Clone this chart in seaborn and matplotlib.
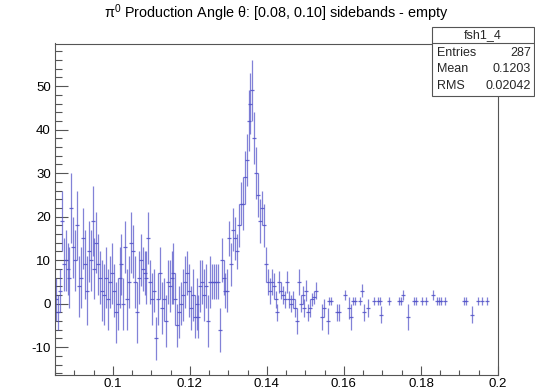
import numpy as np
import pandas as pd
import matplotlib
matplotlib.use("Agg")
import matplotlib.pyplot as plt
import seaborn as sns
from matplotlib.ticker import MultipleLocator, FixedLocator
from matplotlib.patches import Rectangle
from matplotlib.lines import Line2D

# Histogram binning
bin_low = 0.085
bin_width = 0.0005

# Contiguous bins starting at bin_low
dense_values = [
    1, -2, 3, 19, 9, 10, 8, 6, 22, 13, 10, 18, 4, 6, 15, 9, 3, 12, 10, 19, 8, 14, 9, 6, 3, 2, 6,
    1, 5, 7, 3, -2, 0, 6, 9, 0, 13, 1, 5, 14, 12, 5, -2, 6, 10, 8, 7, 6, 15, 5, 1, 3, -8, 1,
    7,
    -1, 1, -4, 5, 4, 6, 7, 1, -5, -2, 0, 2, 5, 7, 3, -1, 2, -3, 0, -3, 4, 5, 2, 4, -4, 5, 5, 5, 5, 5,
    -6, 10, 6, 3, 3, 15, 9, 17, 15, 12, 18, 23, 23, 29, 33, 42, 46, 49, 38, 30, 25, 19, 22, 18, 9, 5, 3,
    5, 4, 1, -2, 5, 3, 2, 1, 5, 1, 0, 1, -1, -4, 5, 0, 2, -1, 3, -2, -1, 1, 1.5, 3,
]
dense_errors = [
    5, 4, 5, 7, 6, 7, 6, 7, 8, 7, 7, 8, 7, 7, 7, 8, 8, 7, 7, 8, 7, 7, 7, 6, 7, 7, 7,
    7, 6, 7, 6, 7, 6, 7, 7, 6, 6, 7, 6, 7, 6, 6, 7, 6, 6, 5, 5, 6, 6, 5, 6, 5, 5, 6,
    6,
    6, 5, 6, 5, 6, 6, 7, 6, 5, 6, 5, 6, 6, 5, 6, 5, 6, 5, 6, 5, 6, 5, 6, 5, 6, 6, 4, 4, 4, 4,
    5, 5, 4, 4, 5, 4, 5, 5, 5, 4, 5, 5, 6, 6, 6, 7, 7, 7, 6, 6, 5, 5, 4, 5, 4, 3, 3,
    3, 3, 2, 2, 2.5, 2, 2, 2, 2.5, 2, 2, 2, 2, 3, 3, 2, 2, 2, 2.5, 2, 2, 1.5, 1.5, 2,
]

# Isolated filled bins in the tail (bin index, content, error)
sparse_bins = [138, 139, 141, 142, 143, 146, 147, 150, 152, 153, 154, 155, 158, 159, 160,
               162, 165, 167, 168, 169, 173, 178, 179, 180, 183, 186, 187, 190, 192, 196,
               198, 199, 200, 202, 212, 213, 216, 219, 221, 224]
sparse_values = [-3, -1, -4, 0.6, 0.6, -2, -2, 2, -1, -3, 0.6, 0.6, 0.6, 3, -2,
                 -1, 0.6, 0.6, 0.6, -2.5, 0.6, 0.6, 0.6, 2, -3, 0.6, 0.6, 0.6, 0.6, 2,
                 0.6, 0.6, 0.6, 0.6, 0.6, 0.6, -2.5, 0.6, 0.6, 0.6]
sparse_errors = [3, 2, 3, 1, 1, 2, 2, 1.2, 2.5, 3, 1, 1, 1, 1.5, 2,
                 2, 1, 1, 1, 2, 1, 1, 1, 1.2, 3, 1, 1, 1, 1, 1.2,
                 1, 1, 1, 1, 1, 1, 2, 1, 1, 1]

hist_name = "fsh1_4"
stats_labels = ["Entries", "Mean", "RMS"]
stats_values = ["287", "0.1203", "0.02042"]
title_text = "π$^{0}$ Production Angle θ: [0.08, 0.10] sidebands - empty"
x_ticks = [0.1, 0.12, 0.14, 0.16, 0.18, 0.2]
x_tick_labels = ["0.1", "0.12", "0.14", "0.16", "0.18", "0.2"]
y_ticks = [-10, 0, 10, 20, 30, 40, 50]

# ---------------------------------------------------------------------------
bins = list(range(len(dense_values))) + sparse_bins
df = pd.DataFrame({
    "bin": bins,
    "content": dense_values + sparse_values,
    "error": dense_errors + sparse_errors,
})
df["x"] = bin_low + (df["bin"] + 0.5) * bin_width

sns.set_theme(style="ticks")
plt.rcParams["font.family"] = ["Liberation Sans", "DejaVu Sans"]
plt.rcParams["mathtext.fontset"] = "custom"
plt.rcParams["mathtext.rm"] = "Liberation Sans"
plt.rcParams["mathtext.it"] = "Liberation Sans:italic"

W, H = 535, 391
fig = plt.figure(figsize=(W / 100, H / 100), dpi=100)
left, right, top, bottom = 55, 498, 43.5, 375
ax = fig.add_axes([left / W, 1 - bottom / H, (right - left) / W, (bottom - top) / H])

line_col = "#5252c8"
ax.errorbar(df["x"], df["content"], yerr=df["error"], fmt="none",
            ecolor=line_col, elinewidth=0.9, capsize=0, alpha=0.72)
sns.scatterplot(data=df, x="x", y="content", marker="_", s=5, color=line_col,
                linewidth=0.9, ax=ax, legend=False, alpha=0.85)

ax.set_xlim(0.085, 0.2)
ax.set_ylim(-16.4, 59.8)
ax.set_xlabel("")
ax.set_ylabel("")

ax.xaxis.set_major_locator(FixedLocator(x_ticks))
ax.set_xticklabels(x_tick_labels)
ax.xaxis.set_minor_locator(MultipleLocator(0.005))
ax.yaxis.set_major_locator(FixedLocator(y_ticks))
ax.set_yticklabels([str(v) for v in y_ticks])
ax.yaxis.set_minor_locator(MultipleLocator(2))

frame_col = "#555555"
for sp in ax.spines.values():
    sp.set_color(frame_col)
    sp.set_linewidth(0.8)
    sp.set_visible(True)

ax.tick_params(axis="both", which="both", direction="in", colors=frame_col,
               top=False, right=False, labelsize=9.5, width=0.8)
ax.tick_params(axis="x", which="major", length=6.8, pad=2)
ax.tick_params(axis="x", which="minor", length=3.4)
ax.tick_params(axis="y", which="major", length=9.4, pad=3)
ax.tick_params(axis="y", which="minor", length=4.7)
for lab in ax.get_xticklabels() + ax.get_yticklabels():
    lab.set_color("black")

# Title
fig.text((left + right) / 2 / W, 1 - 13 / H, title_text, ha="center", va="center",
         fontsize=10.4, color="black")

# Statistics box
bx0, bx1, by0, by1, bsep = 432, 534, 27.3, 96, 43.3
fig.patches.append(Rectangle((bx0 / W, 1 - by1 / H), (bx1 - bx0) / W, (by1 - by0) / H,
                             transform=fig.transFigure, facecolor="white",
                             edgecolor=frame_col, linewidth=0.8, zorder=5))
fig.lines.append(Line2D([bx0 / W, bx1 / W], [1 - bsep / H, 1 - bsep / H],
                        transform=fig.transFigure, color=frame_col, linewidth=0.8, zorder=6))
fig.text((bx0 + bx1) / 2 / W, 1 - 35.3 / H, hist_name, ha="center", va="center",
         fontsize=9, zorder=7)
for k, (lab, val) in enumerate(zip(stats_labels, stats_values)):
    yy = 1 - (52.7 + 16.7 * k) / H
    fig.text(436.5 / W, yy, lab, ha="left", va="center", fontsize=9, zorder=7)
    fig.text(531 / W, yy, val, ha="right", va="center", fontsize=9, zorder=7)

fig.savefig("out.png", dpi=100)
